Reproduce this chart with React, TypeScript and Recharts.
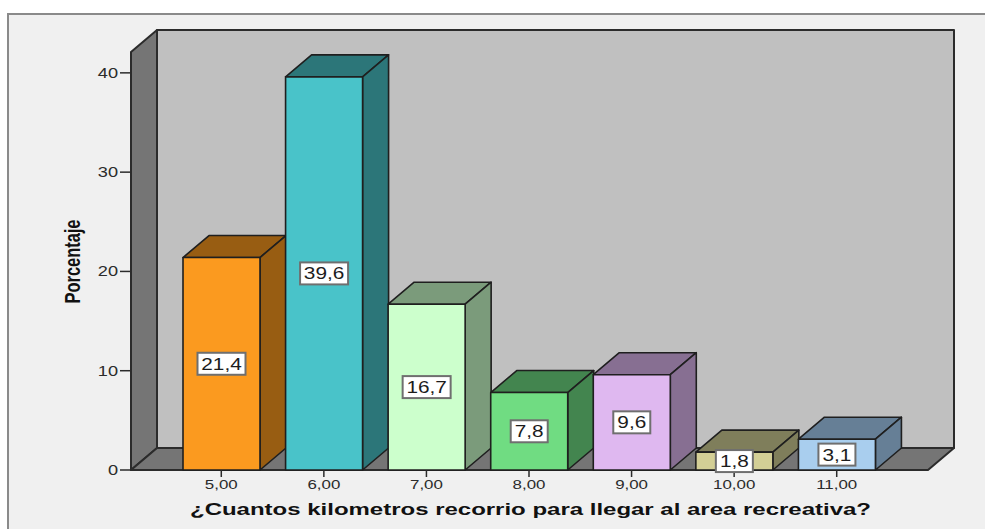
import React from "react";
import { BarChart, Bar, XAxis, YAxis, LabelList, ReferenceArea } from "recharts";

const categories = ["5,00", "6,00", "7,00", "8,00", "9,00", "10,00", "11,00"];
const percentages = [21.4, 39.6, 16.7, 7.8, 9.6, 1.8, 3.1];
const yTicks = [0, 10, 20, 30, 40];
const frontColors = ["#FB9A1F", "#49C3C9", "#CCFFCC", "#70DC82", "#DFB8F0", "#D3CF96", "#A9CEEE"];
const sideColors = ["#985D12", "#2C7679", "#7B9B7B", "#43854F", "#876F92", "#7F7E5B", "#667F96"];

const rows = categories.map((km, i) => ({ km, pct: percentages[i] }));

// Oblique projection used for the box look of the chart.
const DX = 26;
const DY = 22;
const PAD_LEFT = 39;
const PAD_RIGHT = 40;
const STRETCH = 1.3;
const FONT = "'Liberation Sans', Arial, sans-serif";
const INK = "#2b2b2b";

// Back wall, left wall and floor; the area spans the axis padding as well.
function Room(props: any) {
  const { x: innerX, y: innerY, width, height } = props;
  const x = innerX - PAD_LEFT;
  const y = innerY - 1;
  const b = innerY + height;
  const r = innerX + width + PAD_RIGHT;
  return (
    <g stroke={INK} strokeWidth={2} strokeLinejoin="round">
      <polygon points={`${x + DX},${y - DY} ${r + DX},${y - DY} ${r + DX},${b - DY} ${x + DX},${b - DY}`} fill="#C0C0C0" />
      <polygon points={`${x},${y} ${x + DX},${y - DY} ${x + DX},${b - DY} ${x},${b}`} fill="#757575" />
      <polygon points={`${x},${b} ${x + DX},${b - DY} ${r + DX},${b - DY} ${r},${b}`} fill="#757575" />
    </g>
  );
}

function Box3D(props: any) {
  const { x, y, width, height, index } = props;
  const r = x + width;
  const b = y + height;
  return (
    <g stroke="#1f1f1f" strokeWidth={1.6} strokeLinejoin="round">
      <polygon points={`${x},${y} ${x + DX},${y - DY} ${r + DX},${y - DY} ${r},${y}`} fill={sideColors[index]} />
      <polygon points={`${r},${y} ${r + DX},${y - DY} ${r + DX},${b - DY} ${r},${b}`} fill={sideColors[index]} />
      <rect x={x} y={y} width={width} height={height} fill={frontColors[index]} />
    </g>
  );
}

function ValueTag(props: any) {
  const { x, y, width, height, value } = props;
  const text = Number(value).toFixed(1).replace(".", ",");
  const w = text.length > 3 ? 48 : 37;
  const cx = x + width / 2;
  const cy = y + height / 2;
  return (
    <g>
      <rect x={cx - w / 2} y={cy - 11} width={w} height={22} fill="#FFFFFF" stroke="#6f6f6f" strokeWidth={2} />
      <text
        transform={`translate(${cx},${cy + 6}) scale(${STRETCH},1)`}
        textAnchor="middle"
        fontFamily={FONT}
        fontSize={16}
        fill="#1c1c1c"
      >
        {text}
      </text>
    </g>
  );
}

function XTick(props: any) {
  const { x, y, payload } = props;
  return (
    <text
      transform={`translate(${x},${y + 12}) scale(${STRETCH},1)`}
      textAnchor="middle"
      fontFamily={FONT}
      fontSize={13}
      fill="#2b2b2b"
    >
      {payload.value}
    </text>
  );
}

function YTick(props: any) {
  const { x, y, payload } = props;
  return (
    <text
      transform={`translate(${x},${y + 5}) scale(${STRETCH},1)`}
      textAnchor="end"
      fontFamily={FONT}
      fontSize={14}
      fill="#2b2b2b"
    >
      {payload.value}
    </text>
  );
}

function XTitle(props: any) {
  const { viewBox } = props;
  return (
    <text
      x={viewBox.x + viewBox.width / 2 + 1}
      y={viewBox.y + 45}
      textAnchor="middle"
      textLength={681}
      lengthAdjust="spacingAndGlyphs"
      fontFamily={FONT}
      fontWeight="bold"
      fontSize={16}
      fill="#111111"
    >
      ¿Cuantos kilometros recorrio para llegar al area recreativa?
    </text>
  );
}

function YTitle(props: any) {
  const { viewBox } = props;
  const cx = viewBox.x + 9;
  const cy = viewBox.y + viewBox.height / 2;
  return (
    <text
      transform={`translate(${cx},${cy}) rotate(-90)`}
      textAnchor="middle"
      textLength={84}
      lengthAdjust="spacingAndGlyphs"
      fontFamily={FONT}
      fontWeight="bold"
      fontSize={22}
      fill="#111111"
    >
      Porcentaje
    </text>
  );
}

export default function App() {
  return (
    <div style={{ position: "absolute", left: 0, top: 0, width: 985, height: 529, overflow: "hidden", background: "#FFFFFF" }}>
      <div
        style={{
          position: "absolute",
          left: 7,
          top: 13,
          width: 990,
          height: 530,
          background: "#F0F0F0",
          border: "2px solid #8a8a8a",
          boxSizing: "border-box",
        }}
      />
      <div style={{ position: "absolute", left: 0, top: 0 }}>
        <BarChart
          width={985}
          height={529}
          data={rows}
          margin={{ top: 53, right: 57, bottom: 29, left: 71 }}
          barCategoryGap={0}
        >
          <ReferenceArea y1={0} y2={42} ifOverflow="visible" shape={<Room />} />
          <XAxis
            dataKey="km"
            height={30}
            padding={{ left: PAD_LEFT, right: PAD_RIGHT }}
            axisLine={false}
            tickLine={{ stroke: INK, strokeWidth: 1.5 }}
            tickSize={7}
            tickMargin={0}
            interval={0}
            tick={<XTick />}
            label={<XTitle />}
          />
          <YAxis
            width={60}
            domain={[0, 42]}
            ticks={yTicks}
            axisLine={false}
            tickLine={{ stroke: INK, strokeWidth: 1.5 }}
            tickSize={11}
            tickMargin={2}
            tick={<YTick />}
            label={<YTitle />}
          />
          <Bar dataKey="pct" barSize={77} shape={<Box3D />} isAnimationActive={false}>
            <LabelList dataKey="pct" content={<ValueTag />} />
          </Bar>
        </BarChart>
      </div>
    </div>
  );
}
